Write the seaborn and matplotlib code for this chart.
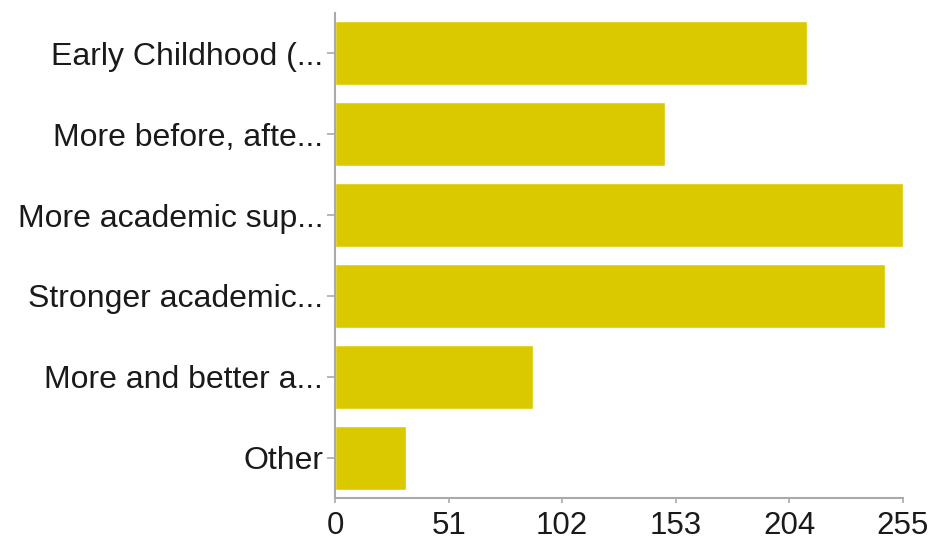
import matplotlib
matplotlib.use("Agg")
import matplotlib.pyplot as plt
import seaborn as sns
import pandas as pd

categories = ["Early Childhood (...", "More before, afte...", "More academic sup...",
              "Stronger academic...", "More and better a...", "Other"]
values = [212, 148, 255, 247, 89, 32]
xticks = [0, 51, 102, 153, 204, 255]

sns.set_theme(style="white")
plt.rcParams['font.family'] = ['Liberation Sans', 'DejaVu Sans']

df = pd.DataFrame({"category": categories, "value": values})

fig = plt.figure(figsize=(9.31, 5.48), dpi=100)
ax = fig.add_axes([335/931, 1 - 498/548, (903 - 335)/931, (498 - 13)/548])

sns.barplot(data=df, x="value", y="category", orient="h", color="#DBC900",
            saturation=1, width=0.79, ax=ax)

ax.set_xlim(0, 255)
ax.set_ylim(5.5, -0.5)
ax.set_xticks(xticks)
ax.set_xticklabels([str(t) for t in xticks])
ax.set_xlabel("")
ax.set_ylabel("")

for s in ["top", "right"]:
    ax.spines[s].set_visible(False)
for s in ["left", "bottom"]:
    ax.spines[s].set_color("#AAAAAA")
    ax.spines[s].set_linewidth(1.5)

ax.tick_params(axis="y", length=6, width=1.2, color="#AAAAAA", pad=2.5,
               labelsize=23, labelcolor="#1A1A1A", left=True)
ax.tick_params(axis="x", length=3.5, width=1.2, color="#AAAAAA", pad=6,
               labelsize=22.5, labelcolor="#1A1A1A", bottom=True)

fig.savefig("out.png", dpi=100)
